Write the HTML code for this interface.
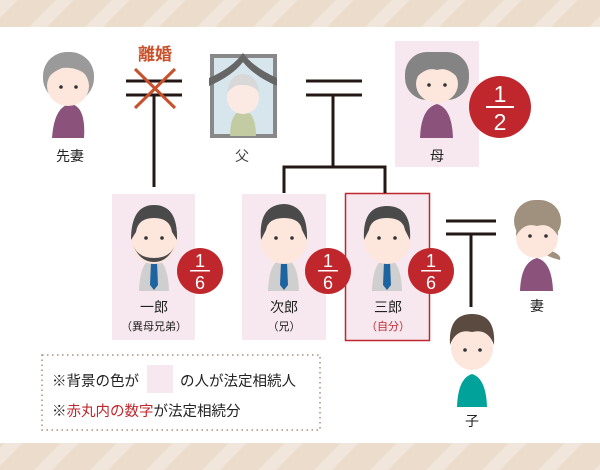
<!DOCTYPE html>
<html><head><meta charset="utf-8"><style>
html,body{margin:0;padding:0;background:#fff}
svg{display:block}
text{font-family:"Liberation Sans","Noto Sans CJK JP",sans-serif}
</style></head><body>
<svg width="600" height="470" viewBox="0 0 600 470" xmlns="http://www.w3.org/2000/svg">
<defs>
<pattern id="st" width="56" height="28" patternUnits="userSpaceOnUse" patternTransform="skewX(-45)">
<rect width="56" height="28" fill="#ecdccb"/><rect width="18" height="28" fill="#f0e6dc"/>
</pattern>
</defs>
<rect x="0" y="0" width="600" height="27" fill="url(#st)"/>
<rect x="0" y="443" width="600" height="27" fill="url(#st)"/>

<rect x="395" y="41" width="84" height="126" fill="#f6e8ee"/>
<rect x="112" y="194" width="83" height="146" fill="#f6e8ee"/>
<rect x="242" y="194" width="84" height="146" fill="#f6e8ee"/>
<rect x="345.5" y="193.5" width="84" height="147" fill="#f6e8ee" stroke="#c0282f" stroke-width="1.5"/>

<g stroke="#231815" stroke-width="3" fill="none">
<line x1="126" y1="81" x2="182" y2="81"/><line x1="126" y1="95" x2="182" y2="95"/>
<line x1="154" y1="95" x2="154" y2="187"/>
<line x1="306" y1="81" x2="362" y2="81"/><line x1="306" y1="95" x2="362" y2="95"/>
<line x1="333" y1="95" x2="333" y2="167"/>
<polyline points="284,193 284,167 385,167 385,193"/>
<line x1="446" y1="221" x2="496" y2="221"/><line x1="446" y1="234" x2="496" y2="234"/>
<line x1="471" y1="234" x2="471" y2="307"/>
</g>
<g stroke="#c8502a" stroke-width="3"><line x1="135" y1="69" x2="175" y2="108"/><line x1="175" y1="69" x2="135" y2="108"/></g>
<text x="155" y="60" font-size="17" font-weight="bold" fill="#c8502a" text-anchor="middle">離婚</text>

<g>
<path d="M52,138 Q54,108 69,104 L72,104 Q86,108 84,138 Z" fill="#8b527b"/>
<rect x="43" y="52" width="51" height="50" rx="24" fill="#9a9a9a"/>
<ellipse cx="68" cy="86" rx="21" ry="20" fill="#fde6dc"/>
<path d="M46,80 Q50,55 68,56 Q88,55 91,80 Q80,66 62,68 Q52,72 46,80Z" fill="#9a9a9a"/>
<circle cx="61" cy="87" r="1.8" fill="#333"/><circle cx="76" cy="87" r="1.8" fill="#333"/>
</g>
<text x="70" y="161" font-size="14" fill="#222" text-anchor="middle">先妻</text>

<rect x="212" y="56" width="63" height="80" fill="#d6e6ec" stroke="#888" stroke-width="4"/>
<path d="M230,136 Q230,112 243,110 Q256,112 256,136Z" fill="#c3cba3"/>
<ellipse cx="243" cy="98" rx="16" ry="16" fill="#fbeae3"/>
<path d="M227,92 Q230,74 243,74 Q257,74 259,92 Q250,82 235,86Z" fill="#d8d8d8"/>
<path d="M209,86 L209,78 Q232,68 243,53 Q254,68 277,78 L277,86 Q254,76 243,62 Q232,76 209,86Z" fill="#666"/>
<text x="242" y="161" font-size="14" fill="#444" text-anchor="middle">父</text>

<path d="M420,138 Q421,108 437,104 Q452,108 453,138Z" fill="#8b527b"/>
<rect x="405" y="52" width="64" height="48" rx="22" fill="#848484"/>
<ellipse cx="437" cy="84" rx="21" ry="19" fill="#fde6dc"/>
<path d="M414,80 Q418,60 437,62 Q456,60 460,80 Q448,66 437,70 Q426,66 414,80Z" fill="#848484"/>
<circle cx="429" cy="85" r="1.8" fill="#333"/><circle cx="445" cy="85" r="1.8" fill="#333"/>
<text x="437" y="161" font-size="14" fill="#222" text-anchor="middle">母</text>

<g fill="#c0272d"><circle cx="500" cy="107" r="31"/><circle cx="200" cy="271" r="23"/><circle cx="328" cy="271" r="23"/><circle cx="431" cy="271" r="23"/></g>
<g fill="#fff" text-anchor="middle">
<text x="500" y="102" font-size="23">1</text><rect x="486" y="106" width="28" height="2"/><text x="500" y="130" font-size="23">2</text>
<text x="200" y="267" font-size="18">1</text><rect x="190" y="270" width="20" height="1.5"/><text x="200" y="289" font-size="18">6</text>
<text x="328" y="267" font-size="18">1</text><rect x="318" y="270" width="20" height="1.5"/><text x="328" y="289" font-size="18">6</text>
<text x="431" y="267" font-size="18">1</text><rect x="421" y="270" width="20" height="1.5"/><text x="431" y="289" font-size="18">6</text>
</g>

<g>
<path d="M139,291 Q140,260 154,258 Q168,260 169,291Z" fill="#cfcfcf"/>
<path d="M151,262 L157,262 L158,285 L154,290 L150,285Z" fill="#1e64a0"/>
<ellipse cx="154" cy="240" rx="23" ry="24" fill="#fde6dc"/>
<path d="M131,240 Q131,205 154,205 Q178,205 177,240 L172,232 Q170,218 154,218 Q138,218 136,232Z" fill="#4a4a4a"/>
<path d="M133,245 Q140,262 154,262 Q168,262 175,245 Q170,258 154,258 Q138,258 133,245Z" fill="#4a4a4a"/>
<circle cx="146" cy="238" r="1.8" fill="#333"/><circle cx="162" cy="238" r="1.8" fill="#333"/>
</g>
<g>
<path d="M268,291 Q269,260 284,258 Q298,260 299,291Z" fill="#cfcfcf"/>
<path d="M281,262 L287,262 L288,285 L284,290 L280,285Z" fill="#1e64a0"/>
<ellipse cx="284" cy="240" rx="23" ry="24" fill="#fde6dc"/>
<path d="M261,240 Q258,205 284,204 Q308,205 307,240 L302,230 Q300,218 284,218 Q268,218 266,230Z" fill="#4a4a4a"/>
<circle cx="276" cy="238" r="1.8" fill="#333"/><circle cx="292" cy="238" r="1.8" fill="#333"/>
</g>
<g>
<path d="M372,291 Q373,260 387,258 Q401,260 402,291Z" fill="#cfcfcf"/>
<path d="M384,262 L390,262 L391,285 L387,290 L383,285Z" fill="#1e64a0"/>
<ellipse cx="387" cy="240" rx="23" ry="24" fill="#fde6dc"/>
<path d="M364,240 Q362,206 387,206 Q412,206 410,240 L405,230 Q403,218 387,218 Q371,218 369,230Z" fill="#4a4a4a"/>
<circle cx="379" cy="238" r="1.8" fill="#333"/><circle cx="395" cy="238" r="1.8" fill="#333"/>
</g>
<g text-anchor="middle" fill="#222">
<text x="154" y="312" font-size="14">一郎</text><text x="154" y="330" font-size="11">（異母兄弟）</text>
<text x="284" y="312" font-size="14">次郎</text><text x="284" y="330" font-size="11">（兄）</text>
<text x="388" y="312" font-size="14">三郎</text><text x="388" y="330" font-size="11" fill="#c0272d">（自分）</text>
</g>

<path d="M520,291 Q521,262 537,258 Q552,262 553,291Z" fill="#8b527b"/>
<path d="M548,250 Q562,254 560,260 Q552,258 546,255Z" fill="#a0907e"/>
<rect x="514" y="200" width="47" height="42" rx="21" fill="#a0907e"/>
<ellipse cx="537" cy="238" rx="21" ry="20" fill="#fde6dc"/>
<path d="M516,236 Q516,212 537,212 Q558,212 558,236 Q550,222 537,226 Q524,222 516,236Z" fill="#a0907e"/>
<circle cx="530" cy="236" r="1.8" fill="#333"/><circle cx="546" cy="236" r="1.8" fill="#333"/>
<text x="537" y="311" font-size="14" fill="#222" text-anchor="middle">妻</text>

<path d="M457,407 Q458,378 472,374 Q486,378 487,407Z" fill="#00a29a"/>
<ellipse cx="472" cy="348" rx="21" ry="22" fill="#fde6dc"/>
<path d="M450,345 Q448,314 472,314 Q496,314 494,345 Q488,328 472,332 Q456,328 450,345Z" fill="#5a4a40"/>
<circle cx="465" cy="350" r="1.8" fill="#333"/><circle cx="480" cy="350" r="1.8" fill="#333"/>
<text x="472" y="426" font-size="14" fill="#222" text-anchor="middle">子</text>

<rect x="42" y="355" width="278" height="75" fill="none" stroke="#a89080" stroke-width="1.5" stroke-dasharray="1.5,3.5"/>
<rect x="147" y="365" width="26" height="28" fill="#f6e8ee"/>
<text x="52" y="386" font-size="14.5" fill="#222">※背景の色が</text>
<text x="180" y="386" font-size="14.5" fill="#222">の人が法定相続人</text>
<text x="52" y="416" font-size="14.5" fill="#222">※<tspan fill="#c0272d">赤丸内の数字</tspan>が法定相続分</text>
</svg>
</body></html>
